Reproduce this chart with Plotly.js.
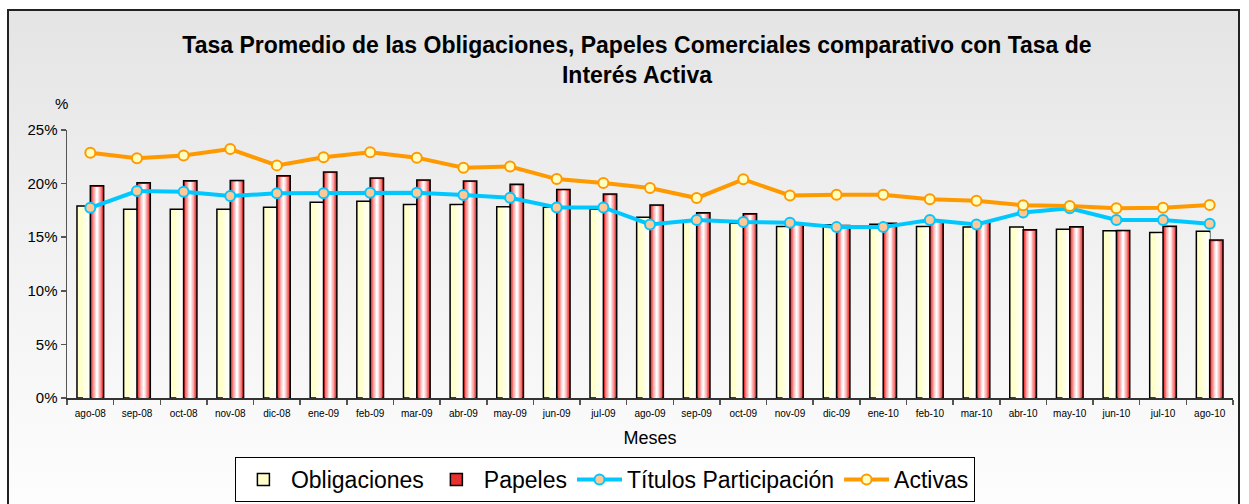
<!DOCTYPE html>
<html>
<head>
<meta charset="utf-8">
<script src="https://cdn.plot.ly/plotly-3.0.1.min.js"></script>
<style>
  html, body { margin: 0; padding: 0; background: #ffffff; }
  #frame {
    position: absolute; left: 7px; top: 9px; width: 1233px; height: 500px;
    border: 2px solid #222; box-sizing: border-box;
    background: linear-gradient(to bottom, #e4e4e4 0%, #f2f2f2 50%, #fdfdfd 100%);
  }
  #chart { position: absolute; left: 0; top: 0; width: 1249px; height: 504px; }
</style>
</head>
<body>
<div id="frame"></div>
<div id="chart"></div>
<script>
const categories = ["ago-08","sep-08","oct-08","nov-08","dic-08","ene-09","feb-09","mar-09","abr-09","may-09","jun-09","jul-09","ago-09","sep-09","oct-09","nov-09","dic-09","ene-10","feb-10","mar-10","abr-10","may-10","jun-10","jul-10","ago-10"];
const obligaciones = [17.9,17.6,17.6,17.6,17.8,18.25,18.35,18.05,18.05,17.85,17.8,17.6,16.85,16.5,16.3,16.0,16.15,16.2,16.0,15.95,15.95,15.75,15.6,15.45,15.55];
const papeles = [19.8,20.08,20.27,20.3,20.73,21.08,20.52,20.33,20.24,19.93,19.46,19.02,18.0,17.28,17.19,16.2,16.1,16.3,16.5,16.45,15.69,15.97,15.63,16.03,14.73];
const titulos = [17.74,19.3,19.24,18.84,19.09,19.09,19.15,19.15,18.93,18.68,17.78,17.78,16.19,16.6,16.41,16.35,15.94,15.94,16.6,16.19,17.31,17.69,16.6,16.6,16.25];
const activas = [22.88,22.36,22.63,23.22,21.7,22.45,22.92,22.42,21.48,21.6,20.42,20.05,19.58,18.65,20.4,18.89,18.96,18.96,18.55,18.4,17.97,17.9,17.69,17.75,18.0];

const W = 0.286; // single bar width in category units
const traces = [];

// Obligaciones: main bar (legend), then lighter inner layers to fake gradient
traces.push({type:'bar', name:'Obligaciones', x:categories, y:obligaciones, width:W, offset:-W,
  marker:{color:'#ffffcc', line:{color:'#000', width:1.5}}, hoverinfo:'y+name'});
[[0.55,'#ffffe2'],[0.3,'#fffff5']].forEach(([f,c])=>{
  traces.push({type:'bar', x:categories, y:obligaciones.map(v=>v-0.12), width:W*f, offset:-W*f,
    marker:{color:c, line:{width:0}}, showlegend:false, hoverinfo:'skip'});
});

// Papeles: red edges, white centre
traces.push({type:'bar', name:'Papeles', x:categories, y:papeles, width:W, offset:0,
  marker:{color:'#e83030', line:{color:'#000', width:1.5}}, hoverinfo:'y+name'});
[[0.78,'#f57070'],[0.56,'#faa8a8'],[0.34,'#fedada'],[0.14,'#ffffff']].forEach(([f,c])=>{
  traces.push({type:'bar', x:categories, y:papeles.map(v=>v-0.12), width:W*f, offset:W*(1-f)/2,
    marker:{color:c, line:{width:0}}, showlegend:false, hoverinfo:'skip'});
});

traces.push({type:'scatter', mode:'lines+markers', name:'Títulos Participación', x:categories, y:titulos,
  line:{color:'#00c8ff', width:4}, marker:{symbol:'circle', size:10, color:'#ffc896', line:{color:'#00c8ff', width:2}}});
traces.push({type:'scatter', mode:'lines+markers', name:'Activas', x:categories, y:activas,
  line:{color:'#ff9900', width:4}, marker:{symbol:'circle', size:10, color:'#ffffc0', line:{color:'#ff9900', width:2}}});

const layout = {
  width:1249, height:504,
  paper_bgcolor:'rgba(0,0,0,0)', plot_bgcolor:'rgba(0,0,0,0)',
  margin:{l:67, r:16, t:130, b:106, autoexpand:false},
  barmode:'overlay',
  font:{family:'Liberation Sans, Arial, sans-serif', color:'#000'},
  title:{text:'<b>Tasa Promedio de las Obligaciones, Papeles Comerciales comparativo con Tasa de<br>Interés Activa</b>',
    font:{size:23, color:'#000'}, xref:'container', x:0.51, xanchor:'center', yref:'container', y:0.895, yanchor:'middle'},
  xaxis:{type:'category', range:[-0.5, 24.5], tickson:'boundaries', ticks:'outside', ticklen:5, tickcolor:'#555', tickwidth:1.5,
    showline:true, linecolor:'#333', linewidth:1.5, showgrid:false, zeroline:false,
    tickfont:{size:10, color:'#000'}, tickangle:0, ticklabelstandoff:5,
    title:{text:'Meses', font:{size:18, color:'#000'}, standoff:14}},
  yaxis:{range:[0,25], dtick:5, ticksuffix:'%', ticks:'outside', ticklen:5, tickcolor:'#555', tickwidth:1.5,
    showline:true, linecolor:'#555', linewidth:1.5, showgrid:false, zeroline:false,
    tickfont:{size:15, color:'#000'}},
  legend:{orientation:'h', x:0.144, xanchor:'left', y:-0.22, yanchor:'top',
    bgcolor:'#ffffff', bordercolor:'#000', borderwidth:1, font:{size:23, color:'#000'},
    traceorder:'normal', itemwidth:45},
  annotations:[{text:'%', xref:'paper', yref:'paper', x:(61-67)/1166, y:(398-103)/268, xanchor:'center', yanchor:'middle',
    showarrow:false, font:{size:15, color:'#000'}}],
  showlegend:true
};

Plotly.newPlot('chart', traces, layout, {displayModeBar:false, staticPlot:true});
</script>
</body>
</html>
